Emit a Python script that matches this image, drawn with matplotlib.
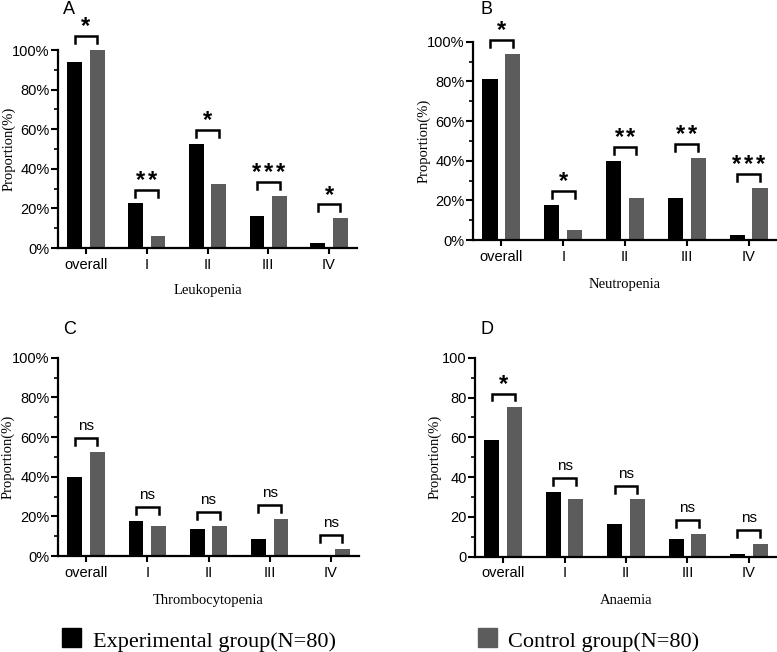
import numpy as np
import matplotlib.pyplot as plt
from matplotlib.ticker import MultipleLocator, FuncFormatter

# grades on the x axis
grades = ["overall", "I", "II", "III", "IV"]

# proportions (%), N=80 per group
leuko_exp = [93.75, 22.5, 52.5, 16.25, 2.5]
leuko_ctl = [100.0, 6.25, 32.5, 26.25, 15.0]
leuko_sig = ["*", "**", "*", "***", "*"]

neutro_exp = [81.25, 17.5, 40.0, 21.25, 2.5]
neutro_ctl = [93.75, 5.0, 21.25, 41.25, 26.25]
neutro_sig = ["*", "*", "**", "**", "***"]

thrombo_exp = [40.0, 17.5, 13.75, 8.75, 0.0]
thrombo_ctl = [52.5, 15.0, 15.0, 18.75, 3.75]
thrombo_sig = ["ns", "ns", "ns", "ns", "ns"]

anaemia_exp = [58.75, 32.5, 16.25, 8.75, 1.25]
anaemia_ctl = [75.0, 28.75, 28.75, 11.25, 6.25]
anaemia_sig = ["*", "ns", "ns", "ns", "ns"]

exp_label = "Experimental group(N=80)"
ctl_label = "Control group(N=80)"

EXP_COLOR = "#000000"
CTL_COLOR = "#5c5c5c"
SANS = "Liberation Sans"
SERIF = "Liberation Serif"

W, H = 777, 652
fig = plt.figure(figsize=(W / 100, H / 100), dpi=100)


def px_axes(x0, x1, y_bottom, y_top):
    return fig.add_axes([x0 / W, 1 - y_bottom / H, (x1 - x0) / W, (y_bottom - y_top) / H])


def draw_panel(ax, exp, ctl, sig, xlabel, ylab_x, xlab_pad, percent=True):
    x = np.arange(len(grades))
    off, bw = 0.185, 0.245
    ax.bar(x - off, exp, bw, color=EXP_COLOR)
    ax.bar(x + off, ctl, bw, color=CTL_COLOR)
    ax.set_xlim(-0.46, len(grades) - 1 + 0.46)
    ax.set_ylim(0, 100)

    for s in ["top", "right"]:
        ax.spines[s].set_visible(False)
    for s in ["left", "bottom"]:
        ax.spines[s].set_linewidth(1.6)

    ax.yaxis.set_major_locator(MultipleLocator(20))
    ax.yaxis.set_minor_locator(MultipleLocator(10))
    if percent:
        ax.yaxis.set_major_formatter(FuncFormatter(lambda v, p: f"{v:.0f}%"))
    ax.tick_params(axis="y", which="major", length=5, width=1.5, labelsize=10.5, pad=1)
    ax.tick_params(axis="y", which="minor", length=3, width=1.2)
    ax.set_xticks(x)
    ax.set_xticklabels(grades)
    ax.tick_params(axis="x", length=4, width=1.5, labelsize=10.5, pad=3)
    for lab in ax.get_xticklabels() + ax.get_yticklabels():
        lab.set_family(SANS)

    ax.set_ylabel("Proportion(%)", family=SERIF, fontsize=10.5)
    ax.yaxis.set_label_coords(ylab_x, 0.5)
    ax.set_xlabel(xlabel, family=SERIF, fontsize=10.5, labelpad=xlab_pad)

    # significance brackets
    for i in range(len(grades)):
        top = max(exp[i], ctl[i]) + 7
        xl, xr = x[i] - off, x[i] + off
        ax.plot([xl, xl, xr, xr], [top - 3.5, top, top, top - 3.5],
                color="black", lw=1.8, clip_on=False, solid_joinstyle="miter")
        if sig[i] == "ns":
            ax.text(x[i], top + 2.5, "ns", ha="center", va="bottom",
                    family=SANS, fontsize=11, clip_on=False)
        else:
            n = len(sig[i])
            for k in range(n):
                ax.annotate("*", (x[i], top), xytext=((k - (n - 1) / 2) * 8.5, -1.5),
                            textcoords="offset points", ha="center", va="bottom",
                            family=SANS, fontsize=17, fontweight="bold",
                            annotation_clip=False)


axA = px_axes(58, 357, 248, 50)
axB = px_axes(473, 777, 240, 41.7)
axC = px_axes(58, 359, 556, 357.7)
axD = px_axes(475, 777, 556.7, 357.7)

draw_panel(axA, leuko_exp, leuko_ctl, leuko_sig, "Leukopenia", -0.143, 9)
draw_panel(axB, neutro_exp, neutro_ctl, neutro_sig, "Neutropenia", -0.14, 10)
draw_panel(axC, thrombo_exp, thrombo_ctl, thrombo_sig, "Thrombocytopenia", -0.143, 10)
draw_panel(axD, anaemia_exp, anaemia_ctl, anaemia_sig, "Anaemia", -0.11, 10, percent=False)

# panel letters
for lx, ly, letter in [(63, 10, "A"), (480, 10, "B"), (63, 330, "C"), (480, 330, "D")]:
    fig.text(lx / W, 1 - ly / H, letter, family=SANS, fontsize=13,
             ha="left", va="center")

# legend at the bottom
for sx, tx, color, label in [(62, 93, EXP_COLOR, exp_label), (478, 508, CTL_COLOR, ctl_label)]:
    fig.patches.append(plt.Rectangle((sx / W, 1 - 647 / H), 19 / W, 19 / H,
                                     transform=fig.transFigure, color=color))
    fig.text(tx / W, 1 - 647 / H, label, family=SERIF, fontsize=16,
             ha="left", va="baseline")

fig.savefig("out.png", dpi=100)
